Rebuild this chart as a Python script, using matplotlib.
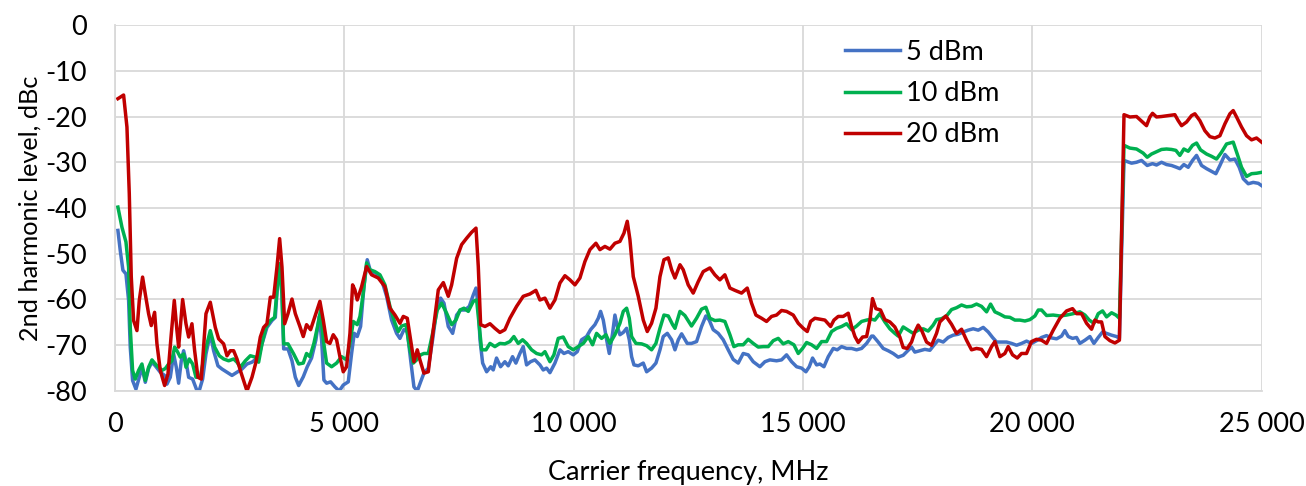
import matplotlib
matplotlib.use("Agg")
import matplotlib.pyplot as plt
from matplotlib.ticker import FuncFormatter, MultipleLocator

plt.rcParams['font.family'] = ['Lato', 'DejaVu Sans']
plt.rcParams['axes.unicode_minus'] = False

# (carrier frequency MHz, 2nd harmonic dBc) for each input power
p5 = [(65, -44.9), (116, -49.3), (174, -53.6), (240, -54.4), (298, -60.2), (334, -70.4), (385, -77.7),
      (458, -79.6), (531, -77), (589, -74.8), (662, -78.1), (734, -75.1), (807, -73.7), (880, -74.5),
      (989, -75.9), (1083, -76.6), (1134, -78.5), (1207, -77), (1280, -71.9), (1338, -74.8), (1389, -78.3),
      (1447, -73.4), (1498, -71.2), (1549, -73.4), (1607, -77), (1694, -77.4), (1788, -79.9), (1839, -79.9),
      (1912, -77.4), (1985, -71.9), (2079, -67.5), (2152, -71.2), (2246, -74.5), (2334, -75.2), (2443, -75.9),
      (2552, -76.6), (2661, -75.9), (2770, -75.2), (2879, -74.1), (2988, -73.7), (3133, -72.6), (3206, -69.7),
      (3315, -66.1), (3424, -64.6), (3497, -63.9), (3555, -55.1), (3591, -52.2), (3642, -58.8), (3679, -70.8),
      (3773, -70.8), (3860, -73.4), (3933, -77), (4006, -78.8), (4106, -76.9), (4193, -74.7), (4287, -72.8),
      (4382, -68.8), (4455, -63.7), (4506, -68.8), (4556, -77.6), (4615, -78.3), (4702, -78), (4796, -79.1),
      (4891, -80), (4978, -78.7), (5087, -78), (5160, -71.8), (5218, -67.4), (5283, -68.1), (5356, -65.9),
      (5429, -57.2), (5501, -51.3), (5574, -53.9), (5691, -54.2), (5814, -55.7), (5923, -59.3), (6032, -64.5),
      (6141, -67.4), (6214, -68.5), (6301, -66.6), (6374, -67), (6447, -73.2), (6519, -79.1), (6592, -80),
      (6665, -78), (6737, -76.1), (6832, -75), (6926, -68.8), (7014, -62.3), (7101, -59.7), (7174, -60.8),
      (7268, -65.9), (7363, -67.4), (7450, -63.4), (7537, -62.3), (7632, -62.3), (7726, -61.5), (7813, -59),
      (7872, -57.5), (7922, -61.5), (7959, -68.8), (8017, -73.9), (8104, -75.8), (8192, -74.7), (8248, -75.4),
      (8320, -72.8), (8408, -74.7), (8502, -73.6), (8575, -74.5), (8669, -72.5), (8742, -73.9), (8829, -71.8),
      (8902, -70.3), (8975, -74.3), (9062, -73.6), (9156, -73.2), (9266, -74.3), (9338, -75.4), (9411, -75),
      (9484, -76), (9593, -73.9), (9702, -71), (9789, -71.8), (9883, -71.4), (9993, -72.1), (10080, -71.4),
      (10174, -68.8), (10283, -68.1), (10370, -66.6), (10465, -65.5), (10538, -64.1), (10589, -62.6),
      (10647, -64.5), (10720, -68.8), (10778, -71.8), (10850, -67.4), (10901, -63.4), (10952, -65.9),
      (11010, -67.7), (11083, -67.2), (11156, -66.3), (11214, -68.8), (11265, -72.5), (11316, -74.3),
      (11410, -74.5), (11519, -73.9), (11592, -75.8), (11700, -75), (11795, -73.9), (11883, -71), (11955, -68.1),
      (12043, -67.4), (12137, -68.8), (12210, -71), (12283, -68.8), (12355, -67.5), (12477, -69.6),
      (12571, -69.6), (12681, -69.2), (12790, -65.9), (12884, -63.6), (12957, -64.5), (13044, -66.6),
      (13153, -67.4), (13262, -68.8), (13371, -71), (13480, -73.1), (13589, -73.9), (13698, -71.8),
      (13807, -72.1), (13916, -73.6), (14062, -74.7), (14171, -73.6), (14280, -73.2), (14425, -73.4),
      (14534, -73.2), (14643, -72.1), (14753, -73.6), (14862, -74.7), (14971, -75), (15065, -75.8),
      (15138, -74.7), (15210, -72.8), (15298, -74.3), (15370, -74.1), (15458, -74.7), (15552, -72.5),
      (15661, -70.7), (15748, -71), (15843, -70.3), (15952, -70.7), (16061, -70.7), (16170, -71), (16279, -70.7),
      (16388, -69.6), (16497, -68), (16532, -68), (16641, -69.3), (16750, -70.7), (16859, -71.2), (16968, -71.8),
      (17077, -72.6), (17186, -72.2), (17295, -71.1), (17368, -70.4), (17440, -71.5), (17549, -71.2),
      (17658, -70.9), (17768, -71.1), (17855, -70), (17949, -68.9), (18058, -69.3), (18167, -68.3),
      (18276, -67.8), (18385, -67.6), (18495, -67.1), (18604, -66.7), (18713, -66.4), (18822, -66.7),
      (18931, -66.1), (19040, -67.1), (19134, -68.3), (19222, -69.3), (19331, -69.3), (19440, -69.3),
      (19549, -69.6), (19658, -70), (19767, -69.6), (19876, -69.1), (19985, -69.6), (20094, -69), (20203, -68.3),
      (20311, -67.9), (20421, -68.4), (20530, -68.6), (20639, -68), (20711, -66.8), (20784, -68.1),
      (20878, -68.5), (20966, -68.3), (21038, -69.6), (21148, -68.9), (21257, -68.1), (21344, -69.6),
      (21438, -68.3), (21533, -67.1), (21620, -67.4), (21729, -67.8), (21838, -68.1), (21900, -68.5),
      (22000, -29.6), (22164, -30.2), (22273, -30), (22382, -29.6), (22506, -30.7), (22622, -30.3),
      (22709, -30.6), (22818, -30), (22927, -30.5), (23037, -30.7), (23145, -31.1), (23218, -31.4),
      (23305, -30.5), (23400, -31.1), (23494, -29.6), (23582, -28.5), (23691, -30.7), (23800, -31.4),
      (23909, -32), (24003, -32.5), (24091, -30.7), (24200, -28.3), (24309, -29.5), (24418, -29.3),
      (24512, -31.1), (24600, -33.6), (24709, -34.7), (24818, -34.4), (24927, -34.6), (25000, -35.1)]

p10 = [(65, -39.8), (153, -44.2), (240, -47.4), (298, -52.9), (334, -66.1), (385, -75.5), (443, -77.4),
       (516, -75.5), (589, -74.1), (662, -77.7), (734, -74.8), (807, -73.2), (916, -74.5), (1025, -75.5),
       (1098, -75.1), (1171, -74.1), (1243, -73.4), (1301, -70.4), (1352, -71.2), (1425, -72.6), (1498, -71.9),
       (1549, -74.8), (1621, -73), (1694, -74.1), (1767, -77), (1861, -77), (1970, -71.2), (2079, -66.8),
       (2174, -70.4), (2276, -72.3), (2370, -73), (2479, -73.4), (2588, -73), (2661, -73.7), (2734, -74.8),
       (2843, -73.4), (2952, -72.3), (3061, -72.6), (3133, -73.7), (3206, -69.7), (3293, -66.1), (3388, -64.6),
       (3482, -63.9), (3533, -58), (3584, -52.2), (3642, -58.8), (3679, -69.7), (3773, -69.7), (3897, -71.9),
       (4006, -74.1), (4106, -73.9), (4178, -71.8), (4251, -72.5), (4338, -69.6), (4433, -65.2), (4484, -62.3),
       (4542, -68.8), (4615, -73.9), (4724, -74.7), (4833, -73.9), (4942, -72.5), (5051, -73.2), (5138, -68.8),
       (5196, -64.8), (5283, -65.5), (5342, -63.7), (5414, -58.6), (5487, -52), (5560, -53.5), (5669, -53.9),
       (5778, -54.6), (5887, -56.8), (5996, -61.5), (6106, -65.2), (6178, -67), (6250, -65.8), (6345, -65.5),
       (6432, -71), (6505, -73.9), (6578, -73.2), (6665, -72.1), (6737, -71.8), (6832, -71.8), (6926, -67.4),
       (7028, -62.3), (7123, -60.8), (7232, -63), (7341, -65.5), (7435, -64.5), (7523, -62.3), (7610, -61.9),
       (7704, -62.6), (7813, -60.4), (7886, -60.1), (7944, -65.9), (7995, -71), (8090, -71), (8177, -69.6),
       (8284, -70.3), (8393, -69.6), (8502, -69.7), (8611, -69.2), (8698, -68.1), (8793, -69.6), (8888, -68.8),
       (8975, -69.6), (9084, -71), (9193, -71.8), (9302, -72.1), (9375, -71.4), (9484, -73.6), (9571, -72.1),
       (9665, -68.5), (9774, -68.2), (9883, -70.3), (9993, -71), (10102, -70.3), (10211, -69.6), (10320, -68.1),
       (10414, -69.9), (10501, -67.4), (10610, -68.5), (10705, -67.7), (10792, -69.6), (10901, -67.7),
       (11010, -65.2), (11083, -62.6), (11156, -61.9), (11214, -64.1), (11265, -68.1), (11359, -69.6),
       (11483, -69.7), (11592, -70.1), (11700, -71), (11795, -69.6), (11883, -66.3), (11970, -63.4),
       (12064, -63.6), (12159, -65.5), (12210, -66.3), (12319, -62.6), (12426, -63.5), (12571, -65.8),
       (12681, -64.1), (12790, -62.1), (12884, -61.7), (12971, -64.1), (13080, -64.6), (13189, -64.5),
       (13298, -64.8), (13408, -67.7), (13495, -70.3), (13589, -69.9), (13698, -69.9), (13807, -68.7),
       (13916, -69.6), (14025, -70.4), (14135, -70.3), (14244, -70.3), (14353, -69), (14462, -68.5),
       (14571, -69.7), (14680, -69.2), (14803, -69.9), (14898, -71.8), (14992, -70.7), (15080, -69.4),
       (15189, -69.9), (15298, -70.7), (15407, -69.2), (15516, -69.2), (15625, -67), (15734, -66.3),
       (15843, -65.9), (15952, -65.3), (16061, -66.6), (16170, -65.8), (16279, -64.8), (16388, -64.5),
       (16497, -64.3), (16568, -64.5), (16677, -63.1), (16786, -64.9), (16895, -66.4), (17004, -67.4),
       (17077, -68), (17186, -66), (17295, -66.7), (17404, -67.4), (17513, -66.7), (17622, -66.4), (17731, -66.9),
       (17840, -65.6), (17913, -64.4), (18022, -64.2), (18131, -63.6), (18240, -62.2), (18349, -61.8),
       (18458, -61.2), (18567, -61.6), (18676, -61.5), (18785, -61), (18894, -61.5), (19004, -62.7), (19091, -61),
       (19185, -62.7), (19294, -63.2), (19403, -63.8), (19512, -63.9), (19621, -64.5), (19730, -64.5),
       (19840, -64.7), (19949, -64.4), (20058, -63.6), (20131, -62.3), (20203, -62.3), (20312, -63.5),
       (20457, -63.4), (20602, -63.6), (20748, -63.4), (20893, -63.1), (21038, -62.7), (21148, -63.4),
       (21242, -64.5), (21344, -65.2), (21438, -63.1), (21533, -62.5), (21620, -63.8), (21729, -62.9),
       (21824, -63.4), (21900, -64.1), (22000, -26.3), (22128, -26.9), (22273, -27.1), (22418, -28),
       (22506, -28.9), (22600, -28.2), (22709, -27.7), (22818, -27.2), (22927, -27.1), (23037, -27.2),
       (23131, -27.4), (23218, -28.5), (23305, -27.1), (23400, -27.6), (23494, -26.3), (23582, -25.8),
       (23669, -27.3), (23800, -28.2), (23909, -28.7), (24018, -29.3), (24127, -27.8), (24236, -26),
       (24381, -25.6), (24469, -28.2), (24563, -31.1), (24672, -33.1), (24781, -32.5), (24890, -32.4),
       (25000, -32.2)]

p20 = [(65, -16.1), (189, -15.3), (262, -22.3), (313, -36.9), (356, -55), (407, -64.6), (480, -66.8),
       (531, -60.2), (603, -55.1), (662, -58.8), (734, -63.1), (792, -65.7), (865, -62.8), (916, -69.7),
       (989, -75.5), (1083, -78.8), (1156, -76.3), (1229, -67.5), (1294, -60.2), (1352, -66.8), (1389, -70.4),
       (1476, -60), (1549, -65.3), (1607, -68.2), (1679, -65.3), (1738, -71.2), (1810, -77), (1883, -77.4),
       (1985, -63.1), (2079, -60.6), (2188, -66.1), (2261, -68.6), (2370, -69.7), (2443, -72.3), (2515, -71.2),
       (2588, -71.2), (2661, -73), (2734, -75.5), (2806, -77.7), (2879, -80), (2988, -77), (3075, -73.7),
       (3170, -68.2), (3242, -66.1), (3315, -65.3), (3388, -59.5), (3461, -59.5), (3533, -52.9), (3591, -46.7),
       (3642, -52.9), (3700, -65.3), (3773, -63.1), (3860, -59.9), (3933, -63.1), (4033, -65.9), (4106, -68.1),
       (4178, -65.5), (4266, -66.6), (4360, -63.7), (4469, -60.4), (4542, -64.5), (4615, -69.2), (4687, -69.6),
       (4760, -67.7), (4833, -68.8), (4905, -72.5), (4978, -75.8), (5051, -74.7), (5124, -67.4), (5182, -56.8),
       (5232, -57.9), (5283, -60.1), (5378, -57.2), (5487, -52.8), (5596, -54.6), (5741, -55.3), (5887, -57.2),
       (5996, -61.9), (6106, -63.4), (6214, -65.2), (6287, -63.7), (6374, -64.1), (6469, -70.3), (6519, -73.6),
       (6592, -71), (6650, -73.2), (6737, -76.1), (6832, -75.8), (6941, -66.6), (7050, -57.9), (7160, -56.3),
       (7268, -59.3), (7341, -56.8), (7450, -51), (7559, -48), (7668, -46.6), (7777, -45.3), (7872, -44.4),
       (7922, -52.8), (7973, -65.5), (8068, -65.9), (8177, -65.3), (8284, -66.3), (8393, -67.2), (8502, -66.6),
       (8611, -64.1), (8757, -61.5), (8902, -59.3), (9047, -58.8), (9178, -58), (9266, -60.1), (9375, -59.7),
       (9484, -61.9), (9593, -60.1), (9702, -56.4), (9811, -54.8), (9920, -55.7), (10029, -56.8), (10138, -55.3),
       (10247, -51.7), (10356, -49.1), (10487, -47.7), (10574, -49.1), (10683, -48.4), (10792, -49),
       (10901, -47.7), (11010, -47.3), (11098, -45.5), (11170, -42.9), (11228, -46.9), (11301, -55),
       (11410, -59.3), (11519, -64.5), (11606, -67), (11700, -65.2), (11795, -61.9), (11883, -55), (11970, -51.3),
       (12064, -50.9), (12137, -53.5), (12210, -55.3), (12319, -52.4), (12390, -53.5), (12499, -56.8),
       (12608, -58.6), (12717, -56.1), (12826, -53.9), (12971, -53.1), (13080, -54.6), (13189, -55.7),
       (13298, -54.6), (13408, -57.5), (13517, -58), (13662, -58.6), (13786, -57.5), (13880, -60.8),
       (13975, -63.4), (14098, -64.1), (14207, -64.8), (14316, -63.7), (14425, -63.4), (14534, -62.4),
       (14643, -62.6), (14789, -63.4), (14898, -65.2), (15007, -66.3), (15094, -67), (15167, -64.8),
       (15261, -64.1), (15370, -64.3), (15479, -64.5), (15603, -65.9), (15676, -64.5), (15770, -63.7),
       (15879, -63.7), (15988, -63), (16061, -65.9), (16134, -68.1), (16206, -69.4), (16301, -68.2),
       (16388, -68.1), (16461, -64.5), (16517, -59.8), (16590, -62), (16692, -62.3), (16786, -64.4),
       (16895, -64.9), (17004, -66), (17113, -68.2), (17186, -70.5), (17273, -70.7), (17368, -69.3),
       (17440, -67.1), (17513, -65.6), (17586, -66.7), (17695, -69.3), (17804, -70), (17913, -67.4),
       (17985, -64.9), (18116, -63.6), (18239, -65.4), (18349, -67.4), (18458, -66.5), (18567, -68.9),
       (18676, -71), (18785, -70.7), (18894, -70.9), (19003, -72.5), (19112, -70.3), (19185, -69.2),
       (19294, -72.5), (19403, -71.8), (19475, -70.3), (19570, -72.1), (19672, -72.8), (19766, -71.8),
       (19875, -71.8), (19984, -69.2), (20093, -68.7), (20202, -68.9), (20311, -69.6), (20457, -66.7),
       (20602, -64.1), (20748, -62.5), (20878, -62), (20966, -63.1), (21075, -63.1), (21184, -65.2),
       (21293, -66.5), (21366, -64.5), (21438, -64.9), (21511, -64.9), (21584, -68.1), (21693, -69),
       (21802, -69.5), (21900, -68.9), (22000, -19.6), (22128, -20.1), (22273, -20), (22382, -21),
       (22491, -22), (22564, -20.1), (22622, -19.3), (22709, -20.1), (22818, -20), (22964, -19.8),
       (23109, -19.6), (23182, -20.9), (23255, -22), (23364, -21.2), (23473, -19.8), (23545, -19.4),
       (23654, -20.9), (23763, -23.1), (23873, -24.4), (23982, -24.7), (24091, -24.2), (24200, -21.6),
       (24309, -19.4), (24381, -18.7), (24454, -20.1), (24563, -22.3), (24672, -24.2), (24781, -25.1),
       (24890, -24.7), (25000, -25.6)]

series = [("5 dBm", p5, "#4472C4"), ("10 dBm", p10, "#00B050"), ("20 dBm", p20, "#C00000")]

fig = plt.figure(figsize=(13.06, 4.86), dpi=100)
ax = fig.add_axes([0.088, 0.1955, 0.878, 0.753])

for name, pts, col in series:
    f, lvl = zip(*pts)
    ax.plot(f, lvl, color=col, lw=2.5, label=name, solid_joinstyle="round")

ax.set_xlim(0, 25000)
ax.set_ylim(-80, 0)
ax.xaxis.set_major_locator(MultipleLocator(5000))
ax.yaxis.set_major_locator(MultipleLocator(10))
ax.xaxis.set_major_formatter(FuncFormatter(lambda v, p: f"{v:,.0f}".replace(",", " ")))
ax.grid(True, color="#D9D9D9", lw=1.3)
ax.set_axisbelow(True)
for s in ax.spines.values():
    s.set_visible(False)
for side in ("left", "bottom"):
    ax.spines[side].set_visible(True)
    ax.spines[side].set_color("#D9D9D9")
    ax.spines[side].set_linewidth(1.3)
ax.tick_params(length=0, labelsize=19.5, colors="black")
ax.tick_params(axis="x", pad=15)
ax.tick_params(axis="y", pad=20)

ax.set_xlabel("Carrier frequency, MHz", fontsize=19.5, labelpad=17)
ax.set_ylabel("2nd harmonic level, dBc", fontsize=18.2, labelpad=3)

ax.legend(loc="upper left", bbox_to_anchor=(0.624, 1.0), frameon=False, fontsize=19.5,
          handlelength=2.0, handletextpad=0.25, labelspacing=0.6, borderaxespad=0.15)

fig.savefig("out.png", dpi=100)
